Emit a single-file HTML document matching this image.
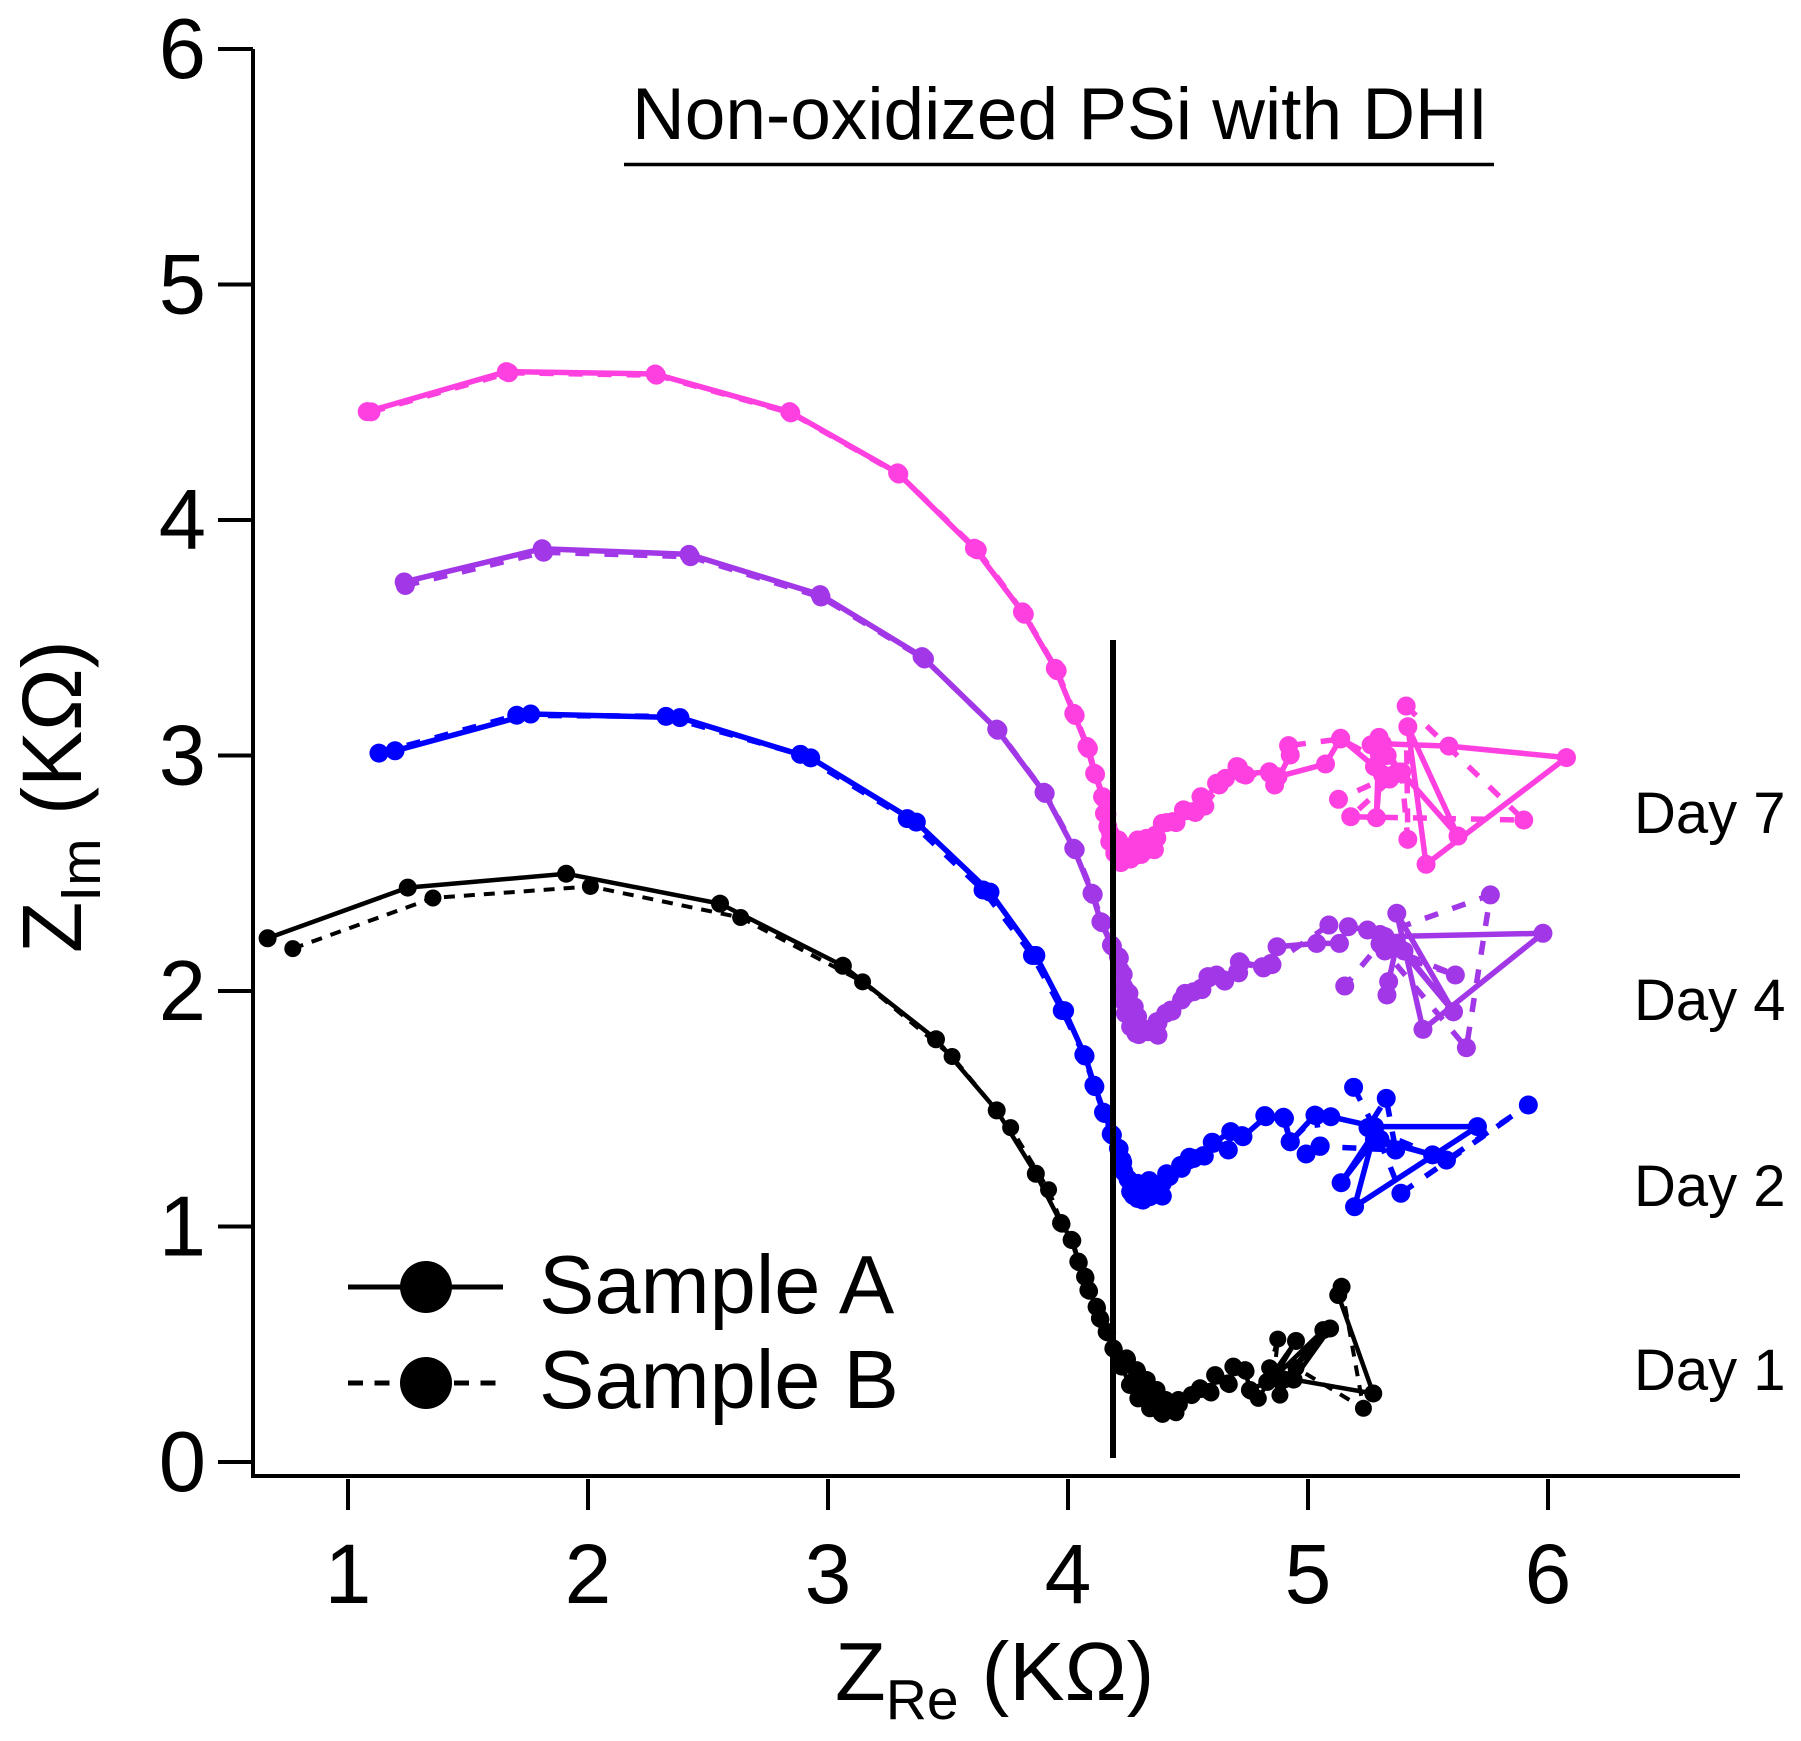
<!DOCTYPE html>
<html>
<head>
<meta charset="utf-8">
<title>Non-oxidized PSi with DHI</title>
<style>
html,body{margin:0;padding:0;background:#fff;}
svg{display:block;}
text{font-family:"Liberation Sans",sans-serif;fill:#000;}
</style>
</head>
<body>
<svg id="chart" xmlns="http://www.w3.org/2000/svg" width="1801" height="1741" viewBox="0 0 1801 1741">
  <rect x="0" y="0" width="1801" height="1741" fill="#fff"/>
  <g id="series-layer"></g>
  <line x1="1113" y1="640" x2="1113" y2="1458" stroke="#000" stroke-width="6"/>
  <line x1="253" y1="49" x2="253" y2="1478" stroke="#000" stroke-width="4"/>
  <line x1="251" y1="1476" x2="1740" y2="1476" stroke="#000" stroke-width="4"/>
  <g id="axis-layer"></g>
  <text x="632" y="139" font-size="73">Non-oxidized PSi with DHI</text>
  <line x1="624" y1="164.500" x2="1494" y2="164.500" stroke="#000" stroke-width="3.500"/>
  <text x="835" y="1700" font-size="83">Z<tspan font-size="57" dy="19">Re</tspan><tspan dy="-19"> (KΩ)</tspan></text>
  <text transform="translate(81,953) rotate(-90)" font-size="84">Z<tspan font-size="57" dy="19">Im</tspan><tspan dy="-19"> (KΩ)</tspan></text>
  <text x="1634" y="833" font-size="58">Day 7</text>
  <text x="1634" y="1020" font-size="58">Day 4</text>
  <text x="1634" y="1206" font-size="58">Day 2</text>
  <text x="1634" y="1390" font-size="58">Day 1</text>
  <g>
    <g>
      <line x1="348" y1="1287" x2="503" y2="1287" stroke="#000" stroke-width="5"/>
      <circle cx="426" cy="1287" r="26" fill="#000"/>
      <text x="539" y="1313" font-size="83">Sample A</text>
    </g>
    <g>
      <line x1="348" y1="1383" x2="496" y2="1383" stroke="#000" stroke-width="5" stroke-dasharray="15 11.500"/>
      <circle cx="426" cy="1383" r="26" fill="#000"/>
      <text x="539" y="1408" font-size="83">Sample B</text>
    </g>
  </g>
</svg>
<script>
var xTickLabels = [1, 2, 3, 4, 5, 6];
var yTickLabels = [0, 1, 2, 3, 4, 5, 6];

var day1AX = [0.665,1.249,1.909,2.55,3.062,3.45,3.703,3.866,3.971,4.015,
  4.043,4.071,4.085,4.119,4.133,4.161,4.189,4.224,4.258,4.293,
  4.342,4.39,4.446,4.46,4.404,4.369,4.328,4.286,4.244,4.286,
  4.342,4.404,4.46,4.515,4.55,4.592,4.613,4.668,4.689,4.738,
  4.758,4.83,4.95,4.86,5.064,4.9,5.092,4.94,5.272,5.126,
  5.14];
var day1AY = [2.224,2.439,2.498,2.371,2.107,1.795,1.493,1.224,1.015,0.943,
  0.851,0.787,0.73,0.659,0.61,0.553,0.482,0.405,0.327,0.27,
  0.228,0.207,0.214,0.249,0.263,0.306,0.348,0.39,0.44,0.362,
  0.291,0.263,0.263,0.284,0.313,0.298,0.369,0.334,0.405,0.39,
  0.306,0.34,0.514,0.36,0.56,0.35,0.567,0.35,0.291,0.709,
  0.744];
var day1BX = [0.77,1.354,2.01,2.636,3.144,3.517,3.761,3.919,3.975,4.02,
  4.047,4.075,4.09,4.123,4.137,4.165,4.193,4.248,4.29,4.311,
  4.346,4.394,4.45,4.464,4.408,4.519,4.554,4.596,4.617,4.672,
  4.693,4.742,4.762,4.793,4.86,4.874,4.84,4.883,4.95,5.231,
  5.14];
var day1BY = [2.18,2.395,2.444,2.312,2.039,1.722,1.42,1.156,1.01,0.94,
  0.846,0.782,0.725,0.654,0.605,0.548,0.477,0.435,0.385,0.315,
  0.258,0.202,0.209,0.244,0.265,0.286,0.308,0.293,0.364,0.329,
  0.4,0.385,0.301,0.27,0.38,0.522,0.4,0.284,0.4,0.228,
  0.744];

var day2AX = [1.196,1.761,2.383,2.928,3.368,3.675,3.866,3.986,4.071,4.112,
  4.152,4.185,4.21,4.225,4.232,4.254,4.261,4.29,4.29,4.312,
  4.342,4.342,4.393,4.393,4.422,4.473,4.502,4.524,4.568,4.605,
  4.678,4.729,4.824,4.902,4.926,5.029,5.095,5.277,5.706,5.194,
  5.277,5.138,5.277,5.519,5.3,5.365];
var day2AY = [3.02,3.176,3.161,2.99,2.717,2.42,2.151,1.916,1.724,1.594,
  1.48,1.388,1.332,1.282,1.233,1.197,1.148,1.183,1.119,1.112,
  1.19,1.127,1.129,1.183,1.212,1.247,1.282,1.289,1.299,1.353,
  1.403,1.381,1.466,1.459,1.36,1.473,1.466,1.424,1.424,1.084,
  1.4,1.186,1.37,1.304,1.37,1.325];
var day2BX = [1.129,1.703,2.325,2.885,3.33,3.646,3.852,3.976,4.066,4.108,
  4.148,4.18,4.213,4.228,4.25,4.272,4.308,4.389,4.338,4.411,
  4.469,4.506,4.564,4.601,4.668,4.725,4.82,4.898,4.926,5.033,
  5.051,4.992,5.05,5.365,5.326,5.25,5.577,5.918,5.387,5.277,
  5.19];
var day2BY = [3.01,3.171,3.166,3.005,2.732,2.429,2.151,1.917,1.73,1.6,
  1.485,1.393,1.33,1.273,1.202,1.132,1.117,1.132,1.195,1.224,
  1.259,1.294,1.301,1.358,1.325,1.386,1.471,1.464,1.36,1.47,
  1.342,1.308,1.34,1.325,1.544,1.42,1.282,1.516,1.141,1.42,
  1.591];

var day4AX = [1.234,1.809,2.421,2.967,3.392,3.703,3.9,4.024,4.1,4.137,
  4.181,4.21,4.217,4.232,4.225,4.254,4.239,4.276,4.261,4.29,
  4.283,4.312,4.334,4.371,4.371,4.407,4.429,4.473,4.488,4.524,
  4.554,4.583,4.619,4.649,4.707,4.714,4.81,4.846,4.871,5.036,
  5.131,5.168,5.248,5.321,5.979,5.479,5.37,5.606,5.4,5.606,
  5.37,5.336,5.329];
var day4AY = [3.737,3.878,3.854,3.683,3.42,3.112,2.844,2.606,2.415,2.294,
  2.195,2.146,2.089,2.018,1.962,1.99,1.905,1.933,1.848,1.891,
  1.82,1.841,1.827,1.817,1.87,1.905,1.919,1.962,1.99,1.997,
  2.011,2.061,2.068,2.047,2.082,2.124,2.103,2.117,2.188,2.202,
  2.202,2.273,2.259,2.231,2.245,1.837,2.33,1.912,2.17,1.912,
  2.2,2.04,1.983];
var day4BX = [1.239,1.815,2.427,2.971,3.402,3.708,3.905,4.03,4.105,4.142,
  4.185,4.214,4.23,4.243,4.258,4.28,4.295,4.375,4.375,4.433,
  4.492,4.558,4.587,4.653,4.711,4.718,4.814,4.85,5.087,5.3,
  5.76,5.66,5.32,5.614,5.3,5.153];
var day4BY = [3.722,3.863,3.844,3.673,3.41,3.107,2.839,2.6,2.41,2.29,
  2.19,2.14,2.07,2.0,1.928,1.843,1.815,1.812,1.865,1.914,
  1.985,2.006,2.056,2.042,2.077,2.119,2.098,2.112,2.28,2.24,
  2.408,1.759,2.17,2.068,2.2,2.021];

var day7AX = [1.08,1.66,2.28,2.84,3.29,3.61,3.81,3.947,4.024,4.079,
  4.111,4.144,4.152,4.166,4.174,4.195,4.21,4.217,4.254,4.239,
  4.29,4.29,4.327,4.356,4.327,4.364,4.393,4.437,4.481,4.524,
  4.554,4.561,4.619,4.656,4.704,4.729,4.839,4.875,5.073,5.136,
  5.277,5.263,5.31,5.36,5.387,5.296,5.285,5.31,5.587,6.077,
  5.492,5.416,5.625,5.33,5.38,5.34];
var day7AY = [4.46,4.63,4.62,4.46,4.2,3.88,3.61,3.37,3.179,3.038,
  2.924,2.825,2.754,2.698,2.634,2.585,2.641,2.549,2.57,2.613,
  2.578,2.641,2.599,2.602,2.648,2.662,2.712,2.719,2.769,2.762,
  2.825,2.79,2.882,2.903,2.953,2.921,2.931,2.91,2.964,3.073,
  2.953,3.045,2.92,2.92,2.924,3.077,2.736,3.05,3.04,2.991,
  2.538,3.122,2.658,3.0,2.93,2.9];
var day7BX = [1.096,1.67,2.285,2.845,3.295,3.622,3.818,3.955,4.03,4.085,
  4.115,4.148,4.162,4.178,4.2,4.22,4.26,4.305,4.36,4.3,
  4.37,4.41,4.45,4.49,4.53,4.56,4.57,4.63,4.71,4.74,
  4.84,4.861,4.926,4.919,5.136,5.39,5.416,5.409,5.899,5.178,
  5.38,5.127];
var day7BY = [4.459,4.625,4.615,4.455,4.195,3.873,3.6,3.36,3.17,3.03,
  2.92,2.82,2.75,2.665,2.595,2.545,2.56,2.58,2.6,2.64,
  2.65,2.715,2.715,2.765,2.758,2.82,2.785,2.875,2.95,2.917,
  2.925,2.875,3.002,3.042,3.07,2.93,2.644,3.21,2.726,2.74,
  2.93,2.814];

var NS = 'http://www.w3.org/2000/svg';

function xScale(v) { return 348 + (v - 1) * 240; }
function yScale(v) { return 1462 - v * 235.5; }

function drawTrace(parent, xs, ys, color, width, dash, radius, traceName) {
  var g = document.createElementNS(NS, 'g');
  
  
  var pts = [];
  for (var i = 0; i < xs.length; i++) {
    pts.push(xScale(xs[i]).toFixed(2) + ',' + yScale(ys[i]).toFixed(2));
  }
  var line = document.createElementNS(NS, 'polyline');
  
  
  line.setAttribute('points', pts.join(' '));
  line.setAttribute('fill', 'none');
  line.setAttribute('stroke', color);
  line.setAttribute('stroke-width', width);
  line.setAttribute('stroke-linejoin', 'miter');
  line.setAttribute('stroke-miterlimit', '2');
  if (dash) { line.setAttribute('stroke-dasharray', dash); }
  g.appendChild(line);
  for (var j = 0; j < xs.length; j++) {
    var c = document.createElementNS(NS, 'circle');
    
    
    c.setAttribute('cx', xScale(xs[j]).toFixed(2));
    c.setAttribute('cy', yScale(ys[j]).toFixed(2));
    c.setAttribute('r', radius);
    c.setAttribute('fill', color);
    g.appendChild(c);
  }
  parent.appendChild(g);
}

var seriesLayer = document.getElementById('series-layer');
drawTrace(seriesLayer, day1BX, day1BY, '#000000', 4, '11 9', 8.5, 'day-1-sample-b');
drawTrace(seriesLayer, day1AX, day1AY, '#000000', 4.5, '', 9, 'day-1-sample-a');
drawTrace(seriesLayer, day2BX, day2BY, '#0000ff', 5.5, '14 15', 9.5, 'day-2-sample-b');
drawTrace(seriesLayer, day2AX, day2AY, '#0000ff', 5.5, '', 9.5, 'day-2-sample-a');
drawTrace(seriesLayer, day4BX, day4BY, '#a237e8', 5.5, '14 15', 9.5, 'day-4-sample-b');
drawTrace(seriesLayer, day4AX, day4AY, '#a237e8', 5.5, '', 9.5, 'day-4-sample-a');
drawTrace(seriesLayer, day7BX, day7BY, '#ff40e0', 5.5, '14 15', 9.5, 'day-7-sample-b');
drawTrace(seriesLayer, day7AX, day7AY, '#ff40e0', 5.5, '', 9.5, 'day-7-sample-a');

var axisLayer = document.getElementById('axis-layer');
xTickLabels.forEach(function (v) {
  var t = document.createElementNS(NS, 'line');
  
  
  t.setAttribute('x1', xScale(v));
  t.setAttribute('x2', xScale(v));
  t.setAttribute('y1', 1479);
  t.setAttribute('y2', 1510);
  t.setAttribute('stroke', '#000');
  t.setAttribute('stroke-width', 4);
  axisLayer.appendChild(t);
  var l = document.createElementNS(NS, 'text');
  
  
  l.setAttribute('x', xScale(v));
  l.setAttribute('y', 1603);
  l.setAttribute('font-size', 84);
  l.setAttribute('text-anchor', 'middle');
  l.textContent = String(v);
  axisLayer.appendChild(l);
});
yTickLabels.forEach(function (v) {
  var t = document.createElementNS(NS, 'line');
  
  
  t.setAttribute('x1', 218);
  t.setAttribute('x2', 253);
  t.setAttribute('y1', yScale(v));
  t.setAttribute('y2', yScale(v));
  t.setAttribute('stroke', '#000');
  t.setAttribute('stroke-width', 4);
  axisLayer.appendChild(t);
  var l = document.createElementNS(NS, 'text');
  
  
  l.setAttribute('x', 206);
  l.setAttribute('y', yScale(v) + 29);
  l.setAttribute('font-size', 85);
  l.setAttribute('text-anchor', 'end');
  l.textContent = String(v);
  axisLayer.appendChild(l);
});
</script>
</body>
</html>
